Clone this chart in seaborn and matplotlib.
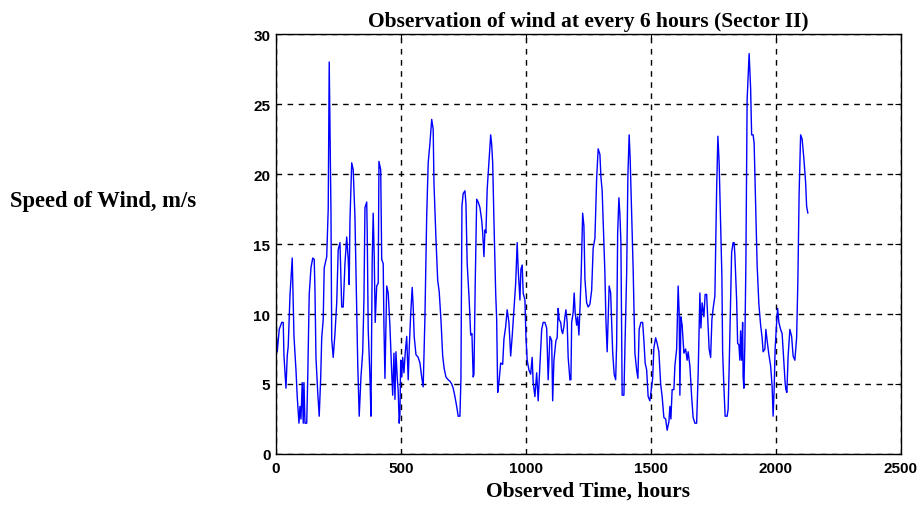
import numpy as np
import pandas as pd
import seaborn as sns
import matplotlib.pyplot as plt

hours = [0, 5, 13, 23, 29, 32, 40, 45, 49, 56, 65, 69, 72, 80, 85, 92, 96, 100,
         105, 109, 112, 116, 123, 127, 133, 140, 147, 153, 156, 160, 167, 173,
         179, 183, 189, 193, 203, 209, 213, 220, 223, 229, 236, 243, 249, 256,
         263, 269, 276, 283, 289, 293, 296, 303, 309, 316, 323, 327, 333, 340,
         347, 352, 356, 363, 365, 369, 376, 380, 385, 389, 393, 397, 403, 409,
         412, 419, 423, 429, 432, 436, 443, 449, 456, 463, 467, 472, 476, 480,
         485, 489, 493, 496, 499, 503, 507, 512, 517, 523, 529, 533, 539, 545,
         549, 553, 560, 569, 576, 583, 589, 596, 603, 609, 616, 623, 629, 632,
         640, 647, 653, 660, 667, 673, 680, 689, 696, 703,
         709, 716, 723, 729, 736, 740, 744, 749, 756, 760, 765, 773, 779, 784,
         789, 792, 797, 803, 809, 816, 823, 827, 832, 836, 840, 845, 852, 859,
         863, 867, 872, 879, 883, 887, 892, 899, 907, 912, 919, 925, 932, 939,
         945, 952, 959, 965, 969, 976, 980, 985, 989, 996, 1000, 1005, 1012,
         1019, 1025, 1029, 1036, 1043, 1049, 1056,
         1063, 1069, 1076, 1083, 1089, 1096, 1103, 1107, 1112, 1120, 1125, 1129,
         1133, 1139, 1143, 1147, 1152, 1156, 1160, 1165, 1169, 1176, 1180, 1183,
         1189, 1193, 1197, 1203, 1207, 1212, 1216, 1221, 1227, 1232, 1236, 1243,
         1249, 1256, 1263, 1269, 1276, 1283, 1289, 1296, 1300, 1305, 1312, 1316,
         1320, 1325, 1329, 1333, 1339, 1343, 1347, 1353, 1359, 1363, 1367, 1372,
         1376, 1380, 1385, 1392, 1396, 1403, 1408, 1413, 1417, 1423, 1429,
         1436, 1443, 1448, 1453, 1460, 1467, 1472, 1477, 1483, 1489, 1496, 1501,
         1507, 1512, 1519, 1525, 1532, 1539, 1545, 1552, 1559, 1565, 1572, 1576,
         1580, 1585, 1592, 1596, 1603, 1609, 1613, 1616, 1620, 1625, 1632, 1639,
         1645, 1649, 1656, 1663, 1669, 1676, 1683, 1689, 1696, 1700, 1705, 1712,
         1717, 1723, 1728, 1733, 1739, 1744, 1749, 1756, 1763, 1768, 1773, 1779,
         1784,
         1787, 1792, 1797, 1805, 1809, 1813, 1819, 1823, 1829, 1833, 1836, 1843,
         1847, 1852, 1856, 1859, 1863, 1867, 1869, 1872, 1876, 1880, 1885, 1893,
         1899, 1903, 1909, 1913, 1919, 1925, 1932, 1939, 1945, 1949, 1956, 1960,
         1965, 1972, 1979, 1985, 1989, 1993, 1997, 2003, 2007, 2012, 2019, 2025,
         2032, 2037, 2040, 2044, 2049, 2056, 2063, 2069, 2076, 2083, 2088, 2093,
         2099, 2105, 2112, 2119, 2123, 2128]

speed = [8.9, 7.3, 8.9, 9.4, 9.4, 7.0, 4.7, 7.0, 7.7, 11.3, 14.0, 10.9, 8.4,
         6.0, 4.1, 2.2, 3.4, 2.5, 5.1, 2.2, 5.1, 2.2, 2.2, 5.4, 11.4, 13.3,
         14.0, 13.9, 11.7, 6.9, 4.4, 2.7, 5.5, 8.3, 9.6, 13.3, 14.1, 17.5,
         28.0, 17.3, 8.2, 6.9, 8.6, 10.8, 14.6, 15.1, 10.5, 10.5, 13.6, 15.5,
         13.9, 12.1, 16.7, 20.8, 20.3, 16.9, 10.5, 6.5, 2.7, 5.5,
         7.3, 11.1, 17.6, 18.0, 15.9, 8.9, 5.5, 2.7, 13.9, 17.2, 14.2, 9.4,
         12.0, 12.2, 20.9, 20.3, 13.9, 13.6, 9.1, 5.4, 12.0, 11.5, 9.1, 5.8,
         4.2, 7.2, 3.9, 7.3, 5.5, 4.5, 2.2, 2.9, 6.7, 5.5, 6.9, 5.8, 7.2, 8.4,
         5.3, 7.5, 10.0, 11.9, 10.5, 8.4, 7.1, 6.9, 6.5, 5.5, 4.8, 9.8, 17.0,
         20.8, 22.2, 23.9, 23.2, 19.4, 15.4, 12.4, 11.6, 9.6, 7.0, 6.1, 5.5,
         5.3, 5.2, 5.0,
         4.7, 4.1, 3.4, 2.7, 2.7, 5.4, 17.7, 18.6, 18.8, 17.9, 13.6, 11.0, 8.5,
         8.6, 5.5, 5.7, 12.0, 18.2, 18.0, 17.6, 16.7, 15.8, 14.1, 16.0, 15.8,
         18.9, 20.9, 22.8, 22.1, 20.8, 16.7, 11.5, 9.6, 4.4, 5.1, 6.5, 6.4, 8.2,
         9.1, 10.3, 9.4, 7.0, 8.4, 10.3, 12.2, 15.1, 13.2, 11.0, 13.2, 13.5,
         11.5, 11.0, 8.4, 6.7, 6.0, 5.7, 6.9, 5.1, 4.1, 5.8, 3.8, 6.3,
         8.9, 9.4, 9.4, 9.0, 5.3, 8.4, 8.1, 3.8, 6.7, 8.1, 8.3, 10.4, 9.6, 9.4,
         8.8, 8.6, 9.1, 9.8, 10.3, 9.4, 6.9, 5.3, 5.3, 9.4, 10.1, 11.5, 10.1,
         9.2, 9.8, 8.5, 10.3, 12.8, 17.2, 16.3, 12.5, 10.8, 10.5, 10.7, 11.7,
         14.7, 15.4, 19.7, 21.8, 21.4, 19.8, 18.8, 15.1, 12.9, 9.6, 7.3, 9.6,
         12.0, 11.5, 9.4, 7.3, 5.7, 5.3, 7.9, 15.8, 18.3, 17.1, 15.1, 4.2, 4.2,
         7.5, 12.9, 19.9, 22.8, 21.1, 17.0, 13.2,
         7.2, 6.0, 5.4, 8.9, 9.4, 9.4, 8.1, 6.5, 6.0, 4.1, 3.8, 4.5, 5.4, 7.6,
         8.3, 7.9, 7.3, 5.0, 4.1, 2.6, 2.5, 1.7, 2.3, 3.4, 2.5, 4.6, 4.6, 6.3,
         7.5, 12.0, 10.1, 4.2, 9.8, 9.2, 7.2, 7.5, 6.7, 7.3, 6.3, 4.1, 2.6, 2.2,
         2.2, 5.7, 11.5, 9.0, 10.8, 9.8, 11.4, 11.4, 9.4, 7.5, 6.9, 9.6, 10.4,
         11.3, 18.9, 22.7, 20.8, 16.3, 12.7,
         7.3, 4.8, 2.7, 2.7, 3.2, 6.1, 11.0, 14.4, 15.1, 15.1, 14.2, 11.0, 7.9,
         7.8, 6.7, 8.8, 6.7, 9.4, 5.5, 4.7, 8.0, 13.6, 25.3, 28.6, 26.1, 22.8,
         22.8, 22.2, 17.7, 13.5, 10.7, 9.2, 8.3, 7.3, 7.5, 8.9, 8.1, 7.1, 6.3,
         4.8, 2.7, 4.6, 7.5, 9.4, 10.4, 9.4, 8.9, 8.6, 6.5, 5.1, 4.6, 4.4, 7.0,
         8.9, 8.4, 7.0, 6.7, 8.3, 12.4, 18.6, 22.8, 22.5, 21.1, 19.4, 17.7, 17.2]

x_ticks = [0, 500, 1000, 1500, 2000, 2500]
y_ticks = [0, 5, 10, 15, 20, 25, 30]

df = pd.DataFrame({"hours": hours, "speed": speed})

sns.set_style("white")
plt.rcParams["text.color"] = "black"
plt.rcParams["axes.labelcolor"] = "black"
plt.rcParams["xtick.color"] = "black"
plt.rcParams["ytick.color"] = "black"

fig = plt.figure(figsize=(9.23, 5.06), dpi=100)
ax = fig.add_axes([0.299, 0.1008, 0.677, 0.830])

sns.lineplot(data=df, x="hours", y="speed", color="blue", linewidth=1.0,
             sort=False, estimator=None, ax=ax)

ax.set_xlim(0, 2500)
ax.set_ylim(0, 30)
ax.set_xticks(x_ticks)
ax.set_yticks(y_ticks)
ax.set_xticklabels([str(t) for t in x_ticks], family="Liberation Sans",
                   fontweight="bold", fontsize=11)
ax.set_yticklabels([str(t) for t in y_ticks], family="Liberation Sans",
                   fontweight="bold", fontsize=11)
ax.tick_params(direction="in", length=4, width=0.8, colors="black",
               top=True, right=True)
ax.tick_params(axis="x", pad=5)
ax.tick_params(axis="y", pad=4)
ax.grid(True, color="black", linestyle=(0, (4, 4)), linewidth=1.0)

for s in ax.spines.values():
    s.set_color("black")
    s.set_linewidth(1.0)

serif = dict(family="Liberation Serif", fontweight="bold", color="black")
ax.set_title("Observation of wind at every 6 hours (Sector II)", pad=6,
             fontsize=15.5, **serif)
ax.set_xlabel("Observed Time, hours", labelpad=4, fontsize=15.5, **serif)
ax.set_ylabel("")
fig.text(10 / 923, 1 - 202 / 506, "Speed of Wind, m/s", ha="left",
         va="center", fontsize=16.3, **serif)

plt.savefig("out.png", dpi=100)
